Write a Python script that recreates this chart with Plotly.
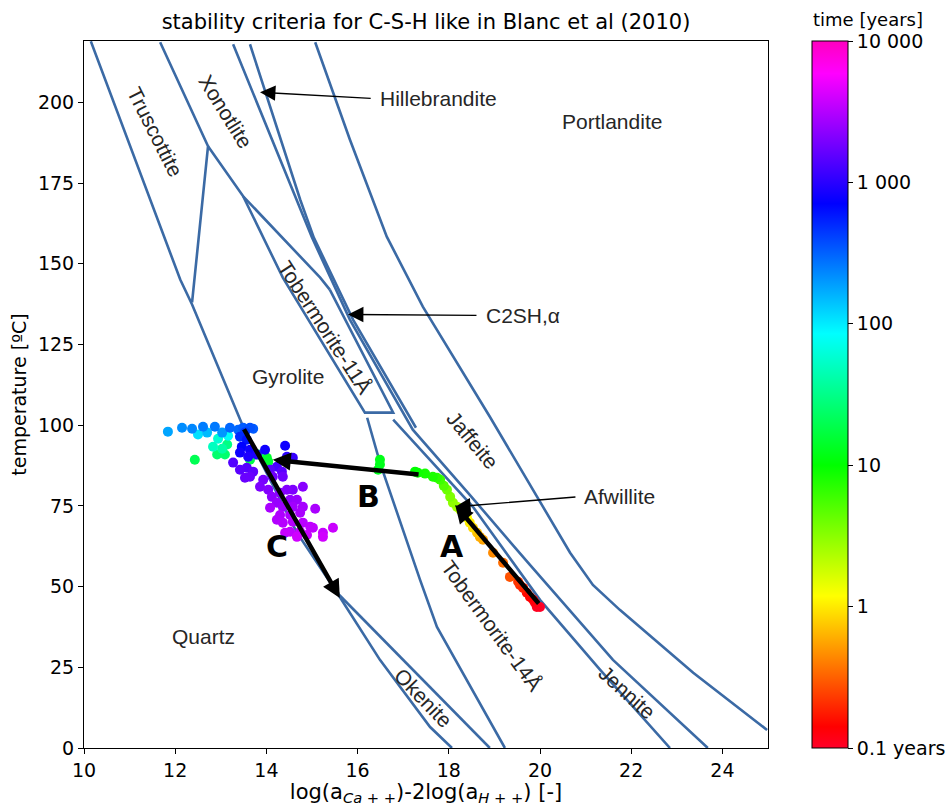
import plotly.graph_objects as go
import numpy as np

# ---------------- phase boundaries (x = log(aCa)-2log(aH), y = temperature) ----------------
quartz_gyrolite_x = [10.15, 12.11, 12.37, 13.49, 14.67, 15.55]
quartz_gyrolite_y = [218.9, 145.1, 137.4, 99.5, 66.7, 48.1]
okenite_upper_x = [15.55, 16.78, 17.59, 18.90]
okenite_upper_y = [48.1, 30.4, 18.9, 0.0]
okenite_lower_x = [15.55, 16.49, 17.59, 18.07]
okenite_lower_y = [48.1, 27.3, 6.5, 0.0]
truscottite_x = [11.67, 12.72, 12.37]
truscottite_y = [218.6, 186.4, 138.0]
xonotlite_low_x = [12.72, 13.49, 15.18, 15.39]
xonotlite_low_y = [186.4, 170.9, 145.7, 142.0]
tob11_x = [13.49, 14.36, 16.16, 16.78, 15.39]
tob11_y = [170.9, 145.7, 103.9, 103.9, 142.0]
tob14_left_x = [16.21, 16.49, 17.37, 17.74, 19.23]
tob14_left_y = [102.3, 88.4, 52.1, 37.5, 0.0]
tob14_right_x = [16.78, 18.53, 20.00, 21.32, 22.85]
tob14_right_y = [101.7, 74.7, 45.9, 24.2, 0.0]
hille1_x = [13.27, 14.47, 15.00, 15.83, 17.21, 18.46, 19.78, 21.60, 23.68]
hille1_y = [218.0, 176.1, 158.1, 132.7, 98.6, 78.4, 56.7, 27.3, 0.0]
hille2_x = [13.64, 14.61, 14.74, 15.04, 15.90, 17.28]
hille2_y = [218.0, 176.1, 169.9, 158.1, 132.7, 99.2]
portlandite_x = [15.07, 15.83, 16.64, 17.43, 18.90, 20.07, 20.66, 21.16, 21.75, 23.36, 24.98]
portlandite_y = [218.6, 188.5, 158.4, 136.7, 102.6, 74.7, 60.5, 50.5, 42.8, 23.3, 5.6]

boundaries = [
    (quartz_gyrolite_x, quartz_gyrolite_y), (okenite_upper_x, okenite_upper_y),
    (okenite_lower_x, okenite_lower_y), (truscottite_x, truscottite_y),
    (xonotlite_low_x, xonotlite_low_y), (tob11_x, tob11_y),
    (tob14_left_x, tob14_left_y), (tob14_right_x, tob14_right_y),
    (hille1_x, hille1_y), (hille2_x, hille2_y), (portlandite_x, portlandite_y),
]

# ---------------- simulated points ----------------
pts_x = [20.00, 19.93, 19.85, 19.71, 19.63, 19.52, 19.34, 19.19, 18.97, 18.75, 18.62, 18.46,
         18.31, 18.18, 18.09, 17.96, 17.81, 17.65, 17.32, 17.26, 16.49, 16.45, 16.49,
         19.89, 19.78, 19.56, 18.68, 18.53, 18.40, 18.25, 18.03, 17.89, 17.74, 17.48,
         12.43, 12.92, 13.09, 13.14, 13.64, 14.01, 14.04, 13.82,
         11.84, 12.15, 12.37, 12.61, 12.87, 12.50, 12.70, 12.94, 13.03, 13.20, 13.16, 12.83, 13.03,
         13.38, 13.49, 13.64, 13.71, 13.42, 13.57, 13.46, 13.64, 13.42, 13.60, 13.79, 13.97, 14.41,
         14.45, 14.58, 13.53,
         13.27, 13.42, 13.57, 13.71, 13.53, 13.64, 13.93, 14.14, 14.36, 14.23, 14.34, 14.08,
         13.86, 14.04, 14.12, 14.30, 14.45, 14.58, 14.80, 14.52, 14.67, 14.23, 14.36, 14.58, 14.80,
         14.08, 14.30, 14.52, 14.74, 15.07, 14.36, 14.58, 14.80, 14.96, 14.23, 14.52, 14.74, 14.89,
         15.02, 15.24, 15.46, 14.67, 15.24, 14.41]
pts_y = [43.7, 43.7, 45.9, 48.1, 49.6, 51.5, 53.0, 57.4, 60.5, 64.5, 66.7, 69.8,
         72.9, 74.7, 76.0, 80.0, 83.1, 84.0, 85.3, 85.6, 89.3, 86.2, 87.8,
         45.0, 46.8, 50.5, 65.4, 68.2, 71.3, 73.8, 77.8, 81.2, 83.7, 85.0,
         89.3, 90.9, 90.9, 94.0, 89.3, 89.9, 88.7, 90.9,
         98.0, 99.2, 98.9, 99.5, 99.5, 97.1, 97.7, 95.8, 97.7, 99.2, 96.7, 93.3, 92.7,
         98.6, 99.2, 99.2, 98.9, 96.4, 95.5, 93.3, 92.4, 91.5, 90.2, 90.9, 92.4, 93.6,
         90.2, 89.9, 97.7,
         88.4, 86.2, 86.8, 85.6, 83.7, 84.0, 83.1, 84.0, 84.0, 87.1, 85.6, 86.2,
         80.9, 80.0, 77.8, 79.1, 80.0, 80.0, 80.9, 76.9, 76.9, 76.0, 74.7, 74.7, 74.7,
         74.4, 72.2, 72.2, 72.9, 74.1, 69.8, 70.1, 69.8, 68.5, 70.7, 67.0, 67.0, 66.0,
         68.2, 66.7, 68.2, 65.4, 65.4, 66.7]
pts_time = [0.1, 0.11, 0.13, 0.15, 0.18, 0.22, 0.28, 0.35, 0.45, 0.55, 0.7, 1.0,
            1.6, 2.5, 3.0, 4.0, 6.0, 8.0, 9.0, 10.0, 12.0, 13.0, 12.5,
            0.12, 0.14, 0.2, 0.6, 0.85, 1.2, 2.0, 3.5, 5.0, 7.0, 8.5,
            20, 25, 25, 30, 18, 15, 15, 20,
            180, 220, 230, 250, 260, 110, 150, 60, 200, 300, 80, 50, 40,
            300, 330, 360, 330, 500, 600, 700, 800, 800, 900, 900, 800, 800,
            1000, 1100, 450,
            1400, 1500, 1450, 1550, 1700, 1700, 1900, 1800, 1750, 1300, 1500, 1500,
            2000, 2100, 2300, 2200, 2100, 2000, 2200, 2400, 2500, 2500, 2600, 2700, 2800,
            2900, 3000, 3000, 2900, 2900, 3200, 3200, 3300, 3400, 3100, 3500, 3600, 3700,
            3500, 3700, 3800, 4000, 4000, 3700]

cbar_vals = [0.1, 1, 10, 100, 1000, 10000]
cbar_text = ["0.1 years", "1", "10", "100", "1 000", "10 000"]

gist_rainbow = [[0.0, 'rgb(255,0,41)'], [0.03, 'rgb(255,0,0)'], [0.215, 'rgb(255,255,0)'],
                [0.4, 'rgb(0,255,0)'], [0.586, 'rgb(0,255,255)'], [0.77, 'rgb(0,0,255)'],
                [0.954, 'rgb(255,0,255)'], [1.0, 'rgb(255,0,191)']]

LINE = '#3b6aa5'
fig = go.Figure()
for bx, by in boundaries:
    fig.add_trace(go.Scatter(x=bx, y=by, mode='lines', line=dict(color=LINE, width=2.6),
                             hoverinfo='skip', showlegend=False))

order = np.argsort(pts_time, kind='stable')
px_ = np.array(pts_x)[order]
py_ = np.array(pts_y)[order]
pt_ = np.log10(np.array(pts_time)[order])
fig.add_trace(go.Scatter(
    x=px_, y=py_, mode='markers', showlegend=False,
    marker=dict(size=10, color=pt_, cmin=-1, cmax=4, colorscale=gist_rainbow,
                line=dict(width=0),
                colorbar=dict(x=1.064, xanchor='left', y=0.5, yanchor='middle', len=1,
                              lenmode='fraction', thickness=36, xpad=0, ypad=0,
                              outlinewidth=1, outlinecolor='black',
                              tickvals=list(np.log10(cbar_vals)), ticktext=cbar_text,
                              ticks='outside', ticklen=5, tickcolor='black',
                              tickfont=dict(family='DejaVu Sans', size=19, color='black')))))

LBL = dict(family='Liberation Sans, Arial', size=21, color='#262626')
labels = [
    ("Truscottite", 11.56, 191.0, 63), ("Xonotlite", 13.11, 197.2, 58),
    ("Portlandite", 21.58, 194.1, 0), ("Tobermorite-11Å", 15.29, 130.2, 57),
    ("Gyrolite", 14.47, 115.0, 0), ("Jaffeite", 18.51, 95.5, 50),
    ("Quartz", 12.61, 34.4, 0), ("Okenite", 17.43, 15.5, 46),
    ("Tobermorite-14Å", 18.95, 38.1, 54), ("Jennite", 21.91, 17.1, 42),
]
anns = []
for t, x, y, a in labels:
    anns.append(dict(x=x, y=y, xref='x', yref='y', text=t, showarrow=False, textangle=a,
                     font=LBL, xanchor='center', yanchor='middle'))

# thin arrows with labels
thin = [("Hillebrandite", 16.32, 201.2, 13.86, 203.1, 16.45),
        ("C2SH,α", 18.64, 134.0, 15.79, 134.3, 18.77),
        ("Afwillite", 20.81, 77.8, 18.14, 74.7, 20.92)]
for t, tx, ty, hx, hy, lx in thin:
    anns.append(dict(x=hx, y=hy, ax=tx, ay=ty, xref='x', yref='y', axref='x', ayref='y',
                     text='', showarrow=True, arrowhead=2, arrowsize=2.2, arrowwidth=1.4,
                     arrowcolor='black', standoff=0, startstandoff=0))
    anns.append(dict(x=lx, y=ty, xref='x', yref='y', text=t, showarrow=False, font=LBL,
                     xanchor='left', yanchor='middle'))

# thick arrows A, B, C
thick = [("A", 20.00, 44.3, 18.14, 75.3, 18.07, 62.3),
         ("B", 17.37, 84.7, 14.14, 89.3, 16.23, 77.8),
         ("C", 13.49, 99.2, 15.61, 46.5, 14.23, 62.3)]
for t, tx, ty, hx, hy, lx, ly in thick:
    anns.append(dict(x=hx, y=hy, ax=tx, ay=ty, xref='x', yref='y', axref='x', ayref='y',
                     text='', showarrow=True, arrowhead=2, arrowsize=0.8, arrowwidth=4.5,
                     arrowcolor='black', standoff=0, startstandoff=0))
    anns.append(dict(x=lx, y=ly, xref='x', yref='y', text='<b>%s</b>' % t, showarrow=False,
                     font=dict(family='DejaVu Sans', size=30, color='black'),
                     xanchor='center', yanchor='middle'))

anns.append(dict(x=1.064, y=1.0, xref='paper', yref='paper', yshift=22, xshift=-1,
                 text='time [years]', showarrow=False, xanchor='left', yanchor='middle',
                 font=dict(family='DejaVu Sans', size=18, color='black')))

TICKF = dict(family='DejaVu Sans', size=19, color='black')
fig.update_layout(
    width=952, height=806, margin=dict(l=84, r=184, t=41, b=58, autoexpand=False),
    paper_bgcolor='white', plot_bgcolor='white',
    title=dict(text='stability criteria for C-S-H like in Blanc et al (2010)', x=0.5,
               xref='paper', y=1 - 22 / 806, yanchor='middle',
               font=dict(family='DejaVu Sans', size=21, color='black')),
    xaxis=dict(range=[10, 25], tickvals=list(range(10, 25, 2)), ticks='outside', ticklen=5,
               tickcolor='black', showline=True, mirror=True, linecolor='black', linewidth=1,
               showgrid=False, zeroline=False, tickfont=TICKF,
               title=dict(text='log(a<sub><i>Ca + +</i></sub>)-2log(a<sub><i>H + +</i></sub>) [-]',
                          font=dict(family='DejaVu Sans', size=21, color='black'), standoff=3)),
    yaxis=dict(range=[0, 219], tickvals=list(range(0, 201, 25)), ticks='outside', ticklen=5,
               tickcolor='black', showline=True, mirror=True, linecolor='black', linewidth=1,
               showgrid=False, zeroline=False, tickfont=TICKF,
               title=dict(text='temperature [ºC]',
                          font=dict(family='DejaVu Sans', size=19, color='black'), standoff=6)),
    annotations=anns,
)
fig.write_html("out.html")
